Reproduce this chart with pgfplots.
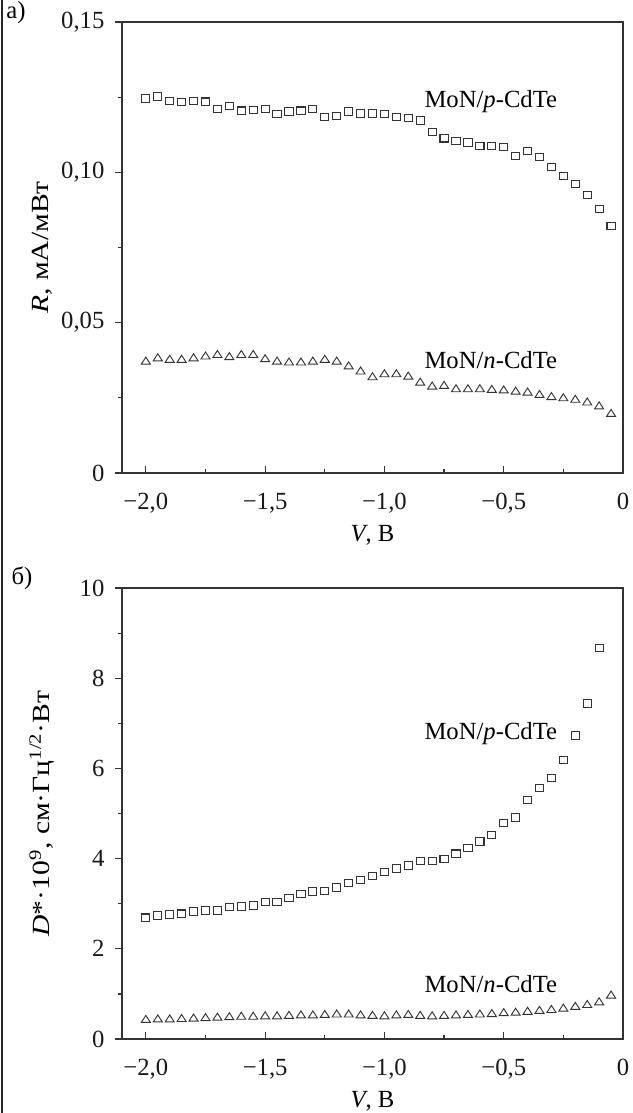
\documentclass[border=0pt]{standalone}
\usepackage{fontspec}
\setmainfont{Liberation Serif}
\usepackage{graphicx}
\newcommand\ff{\fontsize{18.5pt}{22pt}\selectfont}
\usepackage{pgfplots}
\pgfplotsset{compat=1.18}
\begin{document}
\ff
\begin{tikzpicture}[x=1pt,y=1pt]
\path[use as bounding box] (0,0) rectangle (474,-834.75);
\draw[line width=1.1pt, black!85] (1.4,0) -- (1.4,-834.75);
\node[font=\ff] at (12,-9.5) {а)};
\node[font=\ff] at (16.5,-433.5) {б)};
\pgfplotsset{
  myax/.style={
    scale only axis, width=375.75pt, height=338.25pt,
    xmin=-2.1, xmax=0,
    axis line style={line width=0.9pt, black!80},
    xtick={-2,-1.5,-1,-0.5,0},
    xticklabels={{−2,0},{−1,5},{−1,0},{−0,5},0},
    minor xtick={-1.75,-1.25,-0.75,-0.25},
    xtick pos=bottom, ytick pos=left,
    xtick align=inside, ytick align=outside,
    major tick length=5pt, minor tick length=3pt,
    tick style={line width=0.9pt, black!80},
    tick label style={font=\ff, black!90},
    xticklabel style={anchor=base, yshift=-27.5pt, inner sep=0pt},
    yticklabel style={anchor=east, inner sep=0pt, xshift=-8pt},
    xlabel={\textit{V}, В},
    every axis x label/.style={at={(axis description cs:0.5,-0.138)}, anchor=center, font=\ff},
    every axis y label/.style={at={(axis description cs:-0.160,0.5)}, anchor=center, rotate=90, font=\ff},
    clip=false,
  },
  sq/.style={only marks, mark=square, mark size=2.75pt, mark options={xscale=1.12, line width=0.8pt, draw=black!80, fill=none}},
  tr/.style={only marks, mark=triangle, mark size=3.5pt, mark options={xscale=1.12, line width=0.7pt, draw=black!80, fill=none}},
}
\begin{axis}[myax, at={(91.5pt,-354.75pt)}, anchor=south west,
  ymin=0, ymax=0.15,
  ytick={0,0.05,0.10,0.15}, yticklabels={0,{0,05},{0,10},{0,15}},
  minor ytick={0.025,0.075,0.125},
  ylabel={\scalebox{1.2}[1]{\textit{R}, мА/мВт}}]
\addplot[sq] coordinates {(-2.00,0.1246) (-1.95,0.1252) (-1.90,0.1238) (-1.85,0.1233) (-1.80,0.1237) (-1.75,0.1235) (-1.70,0.1210) (-1.65,0.1221) (-1.60,0.1205) (-1.55,0.1207) (-1.50,0.1210) (-1.45,0.1194) (-1.40,0.1202) (-1.35,0.1205) (-1.30,0.1210) (-1.25,0.1185) (-1.20,0.1187) (-1.15,0.1202) (-1.10,0.1196) (-1.05,0.1196) (-1.00,0.1194) (-0.95,0.1185) (-0.90,0.1180) (-0.85,0.1172) (-0.80,0.1135) (-0.75,0.1113) (-0.70,0.1105) (-0.65,0.1099) (-0.60,0.1088) (-0.55,0.1088) (-0.50,0.1085) (-0.45,0.1055) (-0.40,0.1070) (-0.35,0.1052) (-0.30,0.1017) (-0.25,0.0988) (-0.20,0.0961) (-0.15,0.0925) (-0.10,0.0878) (-0.05,0.0822)};
\addplot[tr] coordinates {(-2.00,0.0370) (-1.95,0.0381) (-1.90,0.0376) (-1.85,0.0376) (-1.80,0.0381) (-1.75,0.0387) (-1.70,0.0392) (-1.65,0.0385) (-1.60,0.0392) (-1.55,0.0392) (-1.50,0.0378) (-1.45,0.0370) (-1.40,0.0367) (-1.35,0.0367) (-1.30,0.0370) (-1.25,0.0376) (-1.20,0.0370) (-1.15,0.0354) (-1.10,0.0337) (-1.05,0.0318) (-1.00,0.0328) (-0.95,0.0328) (-0.90,0.0320) (-0.85,0.0300) (-0.80,0.0287) (-0.75,0.0289) (-0.70,0.0278) (-0.65,0.0278) (-0.60,0.0278) (-0.55,0.0276) (-0.50,0.0274) (-0.45,0.0270) (-0.40,0.0267) (-0.35,0.0259) (-0.30,0.0252) (-0.25,0.0248) (-0.20,0.0243) (-0.15,0.0234) (-0.10,0.0221) (-0.05,0.0196)};
\node[anchor=base] at (axis cs:-0.554,0.1217) {MoN/\textit{p}-CdTe};
\node[anchor=base] at (axis cs:-0.554,0.0348) {MoN/\textit{n}-CdTe};
\end{axis}
\begin{axis}[myax, at={(91.5pt,-779.25pt)}, anchor=south west,
  ymin=0, ymax=10,
  ytick={0,2,4,6,8,10}, yticklabels={0,2,4,6,8,10},
  minor ytick={1,3,5,7,9},
  ylabel={\scalebox{1.2}[1]{\textit{D}*·10\textsuperscript{9}, см·Гц\textsuperscript{1/2}·Вт}}]
\addplot[sq] coordinates {(-2.00,2.69) (-1.95,2.74) (-1.90,2.76) (-1.85,2.78) (-1.80,2.83) (-1.75,2.85) (-1.70,2.85) (-1.65,2.93) (-1.60,2.94) (-1.55,2.96) (-1.50,3.04) (-1.45,3.04) (-1.40,3.13) (-1.35,3.21) (-1.30,3.27) (-1.25,3.28) (-1.20,3.36) (-1.15,3.46) (-1.10,3.52) (-1.05,3.61) (-1.00,3.70) (-0.95,3.78) (-0.90,3.85) (-0.85,3.95) (-0.80,3.95) (-0.75,3.99) (-0.70,4.11) (-0.65,4.24) (-0.60,4.38) (-0.55,4.52) (-0.50,4.79) (-0.45,4.91) (-0.40,5.30) (-0.35,5.56) (-0.30,5.79) (-0.25,6.18) (-0.20,6.73) (-0.15,7.44) (-0.10,8.67)};
\addplot[tr] coordinates {(-2.00,0.42) (-1.95,0.43) (-1.90,0.43) (-1.85,0.44) (-1.80,0.45) (-1.75,0.46) (-1.70,0.47) (-1.65,0.48) (-1.60,0.49) (-1.55,0.49) (-1.50,0.50) (-1.45,0.50) (-1.40,0.51) (-1.35,0.52) (-1.30,0.52) (-1.25,0.53) (-1.20,0.54) (-1.15,0.54) (-1.10,0.52) (-1.05,0.51) (-1.00,0.50) (-0.95,0.52) (-0.90,0.53) (-0.85,0.51) (-0.80,0.50) (-0.75,0.51) (-0.70,0.52) (-0.65,0.53) (-0.60,0.54) (-0.55,0.55) (-0.50,0.57) (-0.45,0.58) (-0.40,0.60) (-0.35,0.62) (-0.30,0.64) (-0.25,0.67) (-0.20,0.71) (-0.15,0.75) (-0.10,0.81) (-0.05,0.96)};
\node[anchor=base] at (axis cs:-0.554,6.63) {MoN/\textit{p}-CdTe};
\node[anchor=base] at (axis cs:-0.554,1.04) {MoN/\textit{n}-CdTe};
\end{axis}
\end{tikzpicture}
\end{document}
